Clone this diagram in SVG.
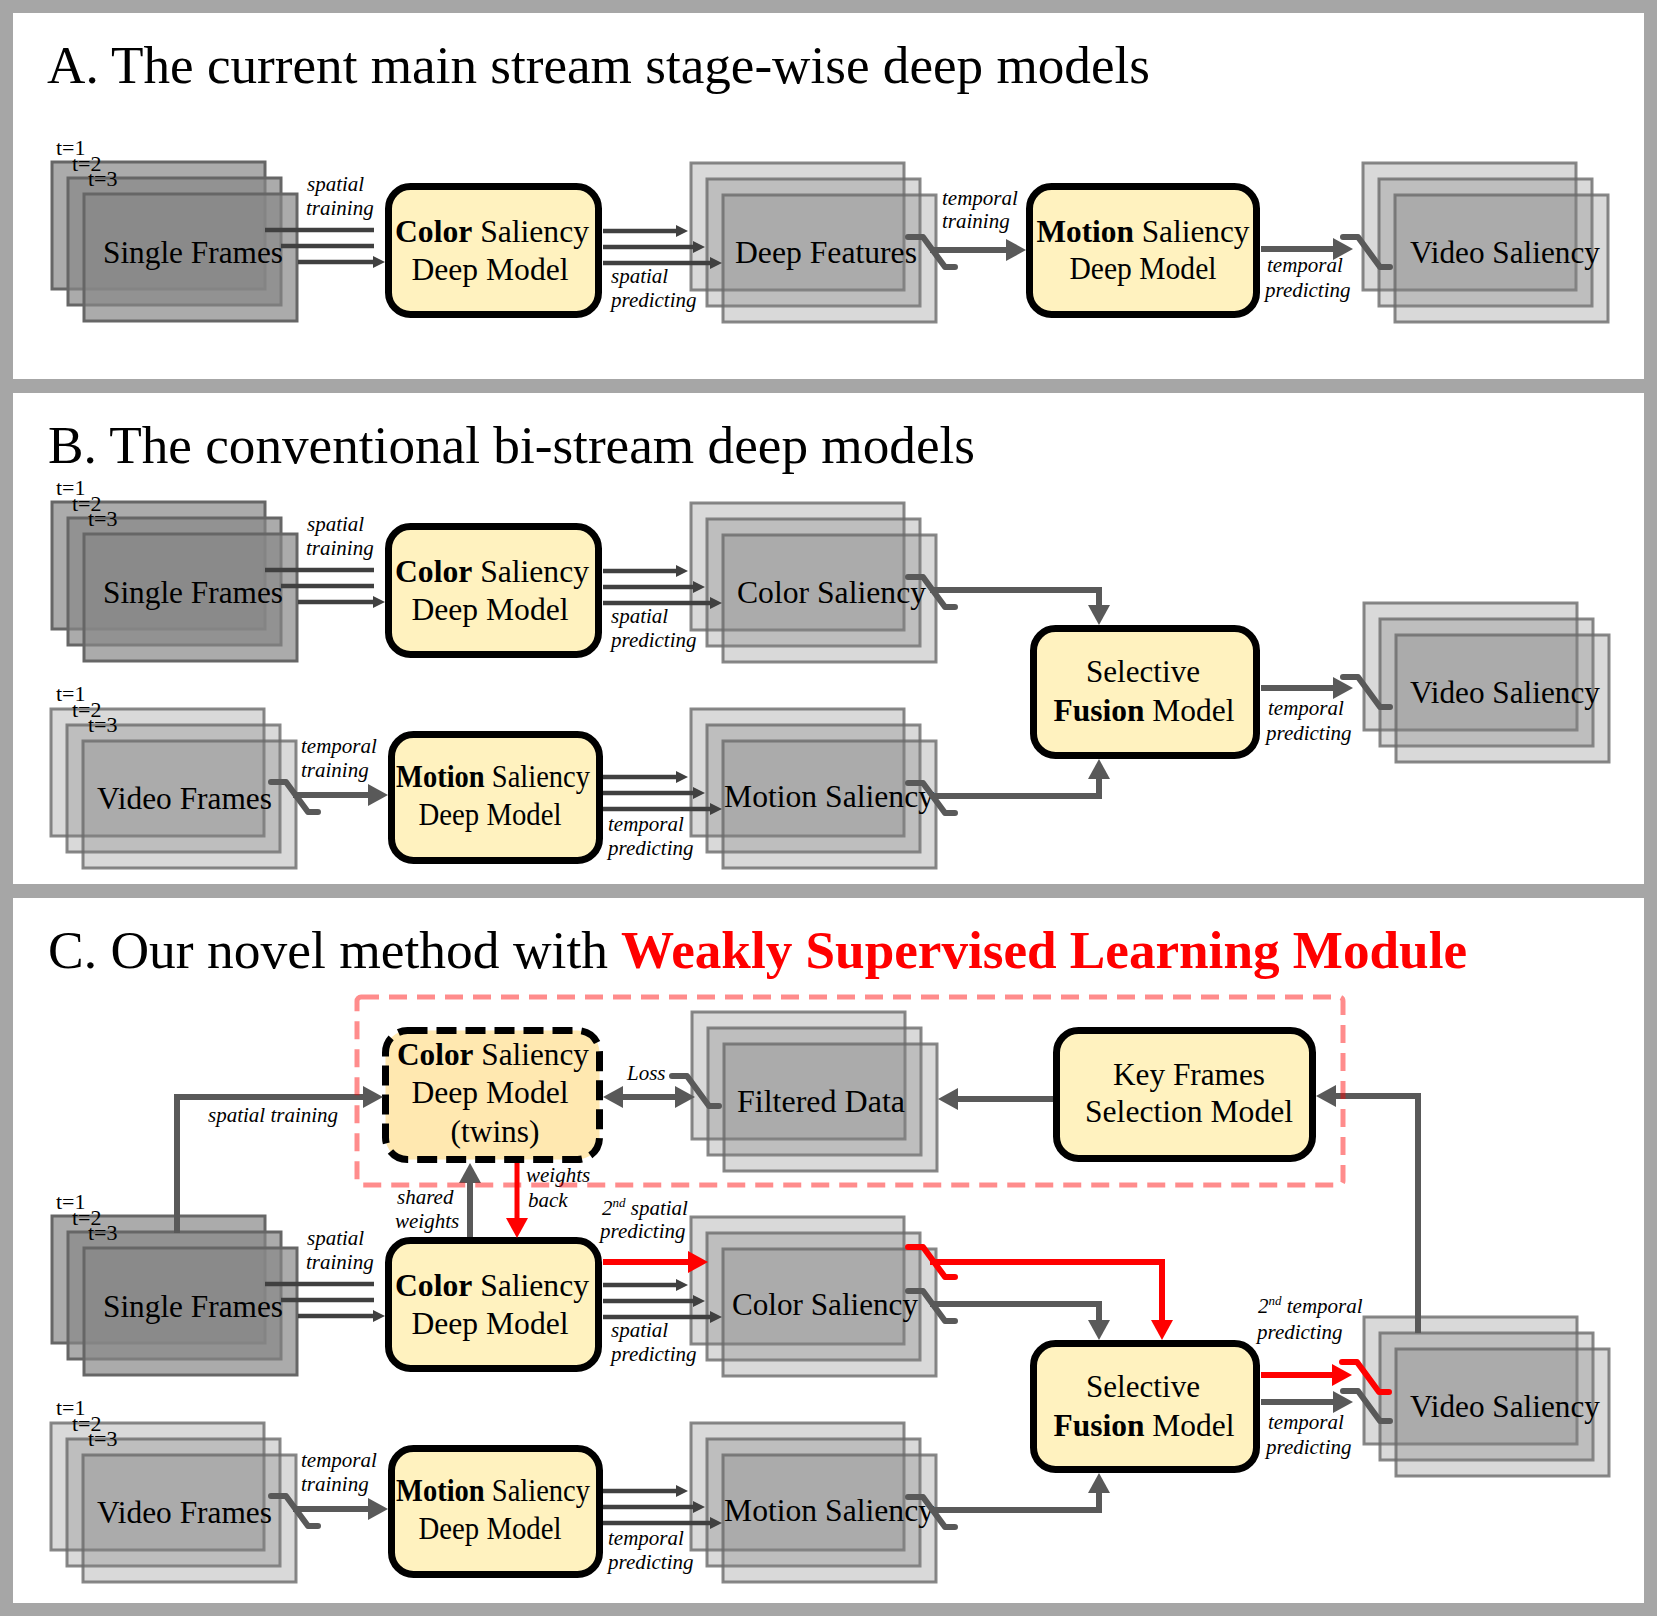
<svg xmlns="http://www.w3.org/2000/svg" xmlns:xlink="http://www.w3.org/1999/xlink" width="1657" height="1616" viewBox="0 0 1657 1616">
<style>
text{font-family:"Liberation Serif","Times New Roman",serif;fill:#000}
.ttl{font-size:52px}
.lbl{font-style:italic;font-size:21px}
.t{font-size:22px}
.bt{font-size:32px}
.box{fill:#fff2bf;stroke:#000;stroke-width:7}
.fd{fill:#888888;fill-opacity:.7;stroke:#666666;stroke-width:3}
.fl{fill:#808080;fill-opacity:.3;stroke:#6a6a6a;stroke-opacity:.8;stroke-width:3}
.thin{stroke:#404040;stroke-width:4.5;fill:none}
.thick{stroke:#595959;stroke-width:6;fill:none}
.red{stroke:#ff0000;stroke-width:6;fill:none}
.sw{stroke:#595959;stroke-width:6;fill:none;stroke-linecap:round;stroke-linejoin:round}
.swr{stroke:#ff0000;stroke-width:6;fill:none;stroke-linecap:round;stroke-linejoin:round}
</style>
<defs>
<g id="stk"><rect x="0" y="0" width="213" height="127"/><rect x="16" y="16" width="213" height="127"/><rect x="32" y="32" width="213" height="127"/></g>
<polyline id="swp" points="0,0 15,0 37,30 47,30"/>
<marker id="ah" markerUnits="userSpaceOnUse" markerWidth="12" markerHeight="12" refX="1" refY="6" orient="auto"><path d="M0,0 L12,6 L0,12 z" fill="#404040"/></marker>
<marker id="ahg" markerUnits="userSpaceOnUse" markerWidth="20" markerHeight="22" refX="1" refY="11" orient="auto-start-reverse"><path d="M0,0 L20,11 L0,22 z" fill="#595959"/></marker>
<marker id="ahr" markerUnits="userSpaceOnUse" markerWidth="20" markerHeight="22" refX="1" refY="11" orient="auto"><path d="M0,0 L20,11 L0,22 z" fill="#ff0000"/></marker>
</defs>
<rect x="0" y="0" width="1657" height="1616" fill="#a6a6a6"/>
<rect x="13" y="13" width="1631" height="366" fill="#fff"/>
<rect x="13" y="393" width="1631" height="491" fill="#fff"/>
<rect x="13" y="898" width="1631" height="705" fill="#fff"/>

<text class="ttl" x="47" y="83" textLength="1103" lengthAdjust="spacingAndGlyphs">A. The current main stream stage-wise deep models</text>
<text class="ttl" x="48" y="463" textLength="927" lengthAdjust="spacingAndGlyphs">B. The conventional bi-stream deep models</text>
<text class="ttl" x="48" y="968"><tspan textLength="560" lengthAdjust="spacingAndGlyphs">C. Our novel method with</tspan><tspan x="621" font-weight="bold" fill="#ff0000" textLength="846" lengthAdjust="spacingAndGlyphs">Weakly Supervised Learning Module</tspan></text>

<!-- Panel A -->
<g id="a-single-frames"><use href="#stk" class="fd" x="52" y="162"/><text class="t" x="56" y="155">t=1</text><text class="t" x="72" y="171">t=2</text><text class="t" x="88" y="186">t=3</text><text class="bt" x="103" y="263" textLength="180" lengthAdjust="spacingAndGlyphs">Single Frames</text></g>
<g id="a-color-model"><rect class="box" x="388.5" y="186.5" width="210" height="128" rx="22"/><text class="bt" x="492" y="242" text-anchor="middle" textLength="194" lengthAdjust="spacingAndGlyphs"><tspan font-weight="bold">Color</tspan> Saliency</text><text class="bt" x="490" y="280" text-anchor="middle" textLength="157" lengthAdjust="spacingAndGlyphs">Deep Model</text></g>
<g id="a-deep-features"><use href="#stk" class="fl" x="691" y="163"/><text class="bt" x="735" y="263" textLength="182" lengthAdjust="spacingAndGlyphs">Deep Features</text></g>
<g id="a-motion-model"><rect class="box" x="1029.5" y="186.5" width="227" height="128" rx="22"/><text class="bt" x="1143" y="242" text-anchor="middle" textLength="213" lengthAdjust="spacingAndGlyphs"><tspan font-weight="bold">Motion</tspan> Saliency</text><text class="bt" x="1143" y="279" text-anchor="middle" textLength="147" lengthAdjust="spacingAndGlyphs">Deep Model</text></g>
<g id="a-video-saliency"><use href="#stk" class="fl" x="1363" y="163"/><text class="bt" x="1410" y="263" textLength="190" lengthAdjust="spacingAndGlyphs">Video Saliency</text></g>

<!-- Panel B -->
<g id="b-single-frames"><use href="#stk" class="fd" x="52" y="502"/><text class="t" x="56" y="495">t=1</text><text class="t" x="72" y="511">t=2</text><text class="t" x="88" y="526">t=3</text><text class="bt" x="103" y="603" textLength="180" lengthAdjust="spacingAndGlyphs">Single Frames</text></g>
<g id="b-color-model"><rect class="box" x="388.5" y="526.5" width="210" height="128" rx="22"/><text class="bt" x="492" y="582" text-anchor="middle" textLength="194" lengthAdjust="spacingAndGlyphs"><tspan font-weight="bold">Color</tspan> Saliency</text><text class="bt" x="490" y="620" text-anchor="middle" textLength="157" lengthAdjust="spacingAndGlyphs">Deep Model</text></g>
<g id="b-color-saliency"><use href="#stk" class="fl" x="691" y="503"/><text class="bt" x="737" y="603" textLength="189" lengthAdjust="spacingAndGlyphs">Color Saliency</text></g>
<g id="b-video-frames"><use href="#stk" class="fl" x="51" y="709"/><text class="t" x="56" y="701">t=1</text><text class="t" x="72" y="717">t=2</text><text class="t" x="88" y="732">t=3</text><text class="bt" x="97" y="809" textLength="175" lengthAdjust="spacingAndGlyphs">Video Frames</text></g>
<g id="b-motion-model"><rect class="box" x="391.5" y="734.5" width="208" height="126" rx="22"/><text class="bt" x="493" y="787" text-anchor="middle" textLength="194" lengthAdjust="spacingAndGlyphs"><tspan font-weight="bold">Motion</tspan> Saliency</text><text class="bt" x="490" y="825" text-anchor="middle" textLength="143" lengthAdjust="spacingAndGlyphs">Deep Model</text></g>
<g id="b-motion-saliency"><use href="#stk" class="fl" x="691" y="709"/><text class="bt" x="724" y="807" textLength="210" lengthAdjust="spacingAndGlyphs">Motion Saliency</text></g>
<g id="b-fusion-model"><rect class="box" x="1033.5" y="628.5" width="223" height="127" rx="22"/><text class="bt" x="1143" y="682" text-anchor="middle" textLength="114" lengthAdjust="spacingAndGlyphs">Selective</text><text class="bt" x="1144" y="721" text-anchor="middle" textLength="181" lengthAdjust="spacingAndGlyphs"><tspan font-weight="bold">Fusion</tspan> Model</text></g>
<g id="b-video-saliency"><use href="#stk" class="fl" x="1364" y="603"/><text class="bt" x="1410" y="703" textLength="190" lengthAdjust="spacingAndGlyphs">Video Saliency</text></g>

<!-- Panel C -->
<g id="c-twins-model"><rect x="385.5" y="1030.5" width="214" height="129" rx="22" fill="#ffe8b0" stroke="#000" stroke-width="7" stroke-dasharray="20 9"/><text class="bt" x="493" y="1065" text-anchor="middle" textLength="192" lengthAdjust="spacingAndGlyphs"><tspan font-weight="bold">Color</tspan> Saliency</text><text class="bt" x="490" y="1103" text-anchor="middle" textLength="157" lengthAdjust="spacingAndGlyphs">Deep Model</text><text class="bt" x="495" y="1142" text-anchor="middle" textLength="89" lengthAdjust="spacingAndGlyphs">(twins)</text></g>
<g id="c-filtered-data"><use href="#stk" class="fl" x="692" y="1012"/><text class="bt" x="737" y="1112" textLength="168" lengthAdjust="spacingAndGlyphs">Filtered Data</text></g>
<g id="c-keyframes-model"><rect class="box" x="1056.5" y="1030.5" width="256" height="128" rx="22"/><text class="bt" x="1189" y="1085" text-anchor="middle" textLength="152" lengthAdjust="spacingAndGlyphs">Key Frames</text><text class="bt" x="1189" y="1122" text-anchor="middle" textLength="208" lengthAdjust="spacingAndGlyphs">Selection Model</text></g>
<g id="c-single-frames"><use href="#stk" class="fd" x="52" y="1216"/><text class="t" x="56" y="1209">t=1</text><text class="t" x="72" y="1225">t=2</text><text class="t" x="88" y="1240">t=3</text><text class="bt" x="103" y="1317" textLength="180" lengthAdjust="spacingAndGlyphs">Single Frames</text></g>
<g id="c-color-model"><rect class="box" x="388.5" y="1240.5" width="210" height="128" rx="22"/><text class="bt" x="492" y="1296" text-anchor="middle" textLength="194" lengthAdjust="spacingAndGlyphs"><tspan font-weight="bold">Color</tspan> Saliency</text><text class="bt" x="490" y="1334" text-anchor="middle" textLength="157" lengthAdjust="spacingAndGlyphs">Deep Model</text></g>
<g id="c-color-saliency"><use href="#stk" class="fl" x="691" y="1217"/><text class="bt" x="732" y="1315" textLength="186" lengthAdjust="spacingAndGlyphs">Color Saliency</text></g>
<g id="c-video-frames"><use href="#stk" class="fl" x="51" y="1423"/><text class="t" x="56" y="1415">t=1</text><text class="t" x="72" y="1431">t=2</text><text class="t" x="88" y="1446">t=3</text><text class="bt" x="97" y="1523" textLength="175" lengthAdjust="spacingAndGlyphs">Video Frames</text></g>
<g id="c-motion-model"><rect class="box" x="391.5" y="1448.5" width="208" height="126" rx="22"/><text class="bt" x="493" y="1501" text-anchor="middle" textLength="194" lengthAdjust="spacingAndGlyphs"><tspan font-weight="bold">Motion</tspan> Saliency</text><text class="bt" x="490" y="1539" text-anchor="middle" textLength="143" lengthAdjust="spacingAndGlyphs">Deep Model</text></g>
<g id="c-motion-saliency"><use href="#stk" class="fl" x="691" y="1423"/><text class="bt" x="724" y="1521" textLength="210" lengthAdjust="spacingAndGlyphs">Motion Saliency</text></g>
<g id="c-fusion-model"><rect class="box" x="1033.5" y="1343.5" width="223" height="126" rx="22"/><text class="bt" x="1143" y="1397" text-anchor="middle" textLength="114" lengthAdjust="spacingAndGlyphs">Selective</text><text class="bt" x="1144" y="1436" text-anchor="middle" textLength="181" lengthAdjust="spacingAndGlyphs"><tspan font-weight="bold">Fusion</tspan> Model</text></g>
<g id="c-video-saliency"><use href="#stk" class="fl" x="1364" y="1317"/><text class="bt" x="1410" y="1417" textLength="190" lengthAdjust="spacingAndGlyphs">Video Saliency</text></g>

<g id="connectors">
<!-- A -->
<path class="thin" marker-end="url(#ah)" d="M265,230H374M281,246H374M298,262H374"/>
<path class="thin" marker-end="url(#ah)" d="M603,231H677"/><path class="thin" marker-end="url(#ah)" d="M603,247H694"/><path class="thin" marker-end="url(#ah)" d="M603,263H711"/>
<use href="#swp" class="sw" x="908" y="237"/>
<path class="thick" marker-end="url(#ahg)" d="M930,250H1007"/>
<path class="thick" marker-end="url(#ahg)" d="M1261,249H1334"/>
<use href="#swp" class="sw" x="1343" y="237"/>
<!-- B -->
<path class="thin" marker-end="url(#ah)" d="M265,570H374M281,586H374M298,602H374"/>
<path class="thin" marker-end="url(#ah)" d="M603,571H677"/><path class="thin" marker-end="url(#ah)" d="M603,587H694"/><path class="thin" marker-end="url(#ah)" d="M603,603H711"/>
<use href="#swp" class="sw" x="908" y="577"/>
<path class="thick" marker-end="url(#ahg)" d="M930,590H1099V606"/>
<use href="#swp" class="sw" x="271" y="782"/>
<path class="thick" marker-end="url(#ahg)" d="M293,795H369"/>
<path class="thin" marker-end="url(#ah)" d="M603,777H677"/><path class="thin" marker-end="url(#ah)" d="M603,793H694"/><path class="thin" marker-end="url(#ah)" d="M603,809H711"/>
<use href="#swp" class="sw" x="908" y="783"/>
<path class="thick" marker-end="url(#ahg)" d="M930,796H1099V778"/>
<path class="thick" marker-end="url(#ahg)" d="M1261,688H1334"/>
<use href="#swp" class="sw" x="1343" y="677"/>
<!-- C -->
<path class="thick" marker-end="url(#ahg)" d="M177,1233V1097H364"/>
<path class="thick" marker-end="url(#ahg)" d="M470,1237V1182"/>
<path class="red" style="stroke-width:5" marker-end="url(#ahr)" d="M517,1163V1219"/>
<path class="thick" marker-start="url(#ahg)" marker-end="url(#ahg)" d="M622,1097H676"/>
<use href="#swp" class="sw" x="672" y="1076"/>
<path class="thick" marker-end="url(#ahg)" d="M1053,1099H957"/>
<path class="thick" marker-end="url(#ahg)" d="M1418,1333V1096H1335"/>
<path class="thin" marker-end="url(#ah)" d="M265,1284H374M281,1300H374M298,1316H374"/>
<path class="red" marker-end="url(#ahr)" d="M603,1262H689"/>
<path class="thin" marker-end="url(#ah)" d="M603,1285H677"/><path class="thin" marker-end="url(#ah)" d="M603,1301H694"/><path class="thin" marker-end="url(#ah)" d="M603,1317H711"/>
<use href="#swp" class="swr" x="908" y="1247"/>
<path class="red" marker-end="url(#ahr)" d="M930,1262H1162V1321"/>
<use href="#swp" class="sw" x="908" y="1291"/>
<path class="thick" marker-end="url(#ahg)" d="M930,1304H1099V1321"/>
<path class="red" marker-end="url(#ahr)" d="M1261,1375H1333"/>
<use href="#swp" class="swr" x="1342" y="1362"/>
<path class="thick" marker-end="url(#ahg)" d="M1261,1402H1334"/>
<use href="#swp" class="sw" x="1343" y="1391"/>
<use href="#swp" class="sw" x="271" y="1496"/>
<path class="thick" marker-end="url(#ahg)" d="M293,1509H369"/>
<path class="thin" marker-end="url(#ah)" d="M603,1491H677"/><path class="thin" marker-end="url(#ah)" d="M603,1507H694"/><path class="thin" marker-end="url(#ah)" d="M603,1523H711"/>
<use href="#swp" class="sw" x="908" y="1497"/>
<path class="thick" marker-end="url(#ahg)" d="M930,1510H1099V1492"/>
</g>

<g id="labels">
<text class="lbl" x="307" y="191">spatial</text><text class="lbl" x="306" y="215">training</text>
<text class="lbl" x="611" y="283">spatial</text><text class="lbl" x="611" y="307">predicting</text>
<text class="lbl" x="942" y="205">temporal</text><text class="lbl" x="942" y="228">training</text>
<text class="lbl" x="1267" y="272">temporal</text><text class="lbl" x="1265" y="297">predicting</text>

<text class="lbl" x="307" y="531">spatial</text><text class="lbl" x="306" y="555">training</text>
<text class="lbl" x="611" y="623">spatial</text><text class="lbl" x="611" y="647">predicting</text>
<text class="lbl" x="1268" y="715">temporal</text><text class="lbl" x="1266" y="740">predicting</text>
<text class="lbl" x="301" y="753">temporal</text><text class="lbl" x="301" y="777">training</text>
<text class="lbl" x="608" y="831">temporal</text><text class="lbl" x="608" y="855">predicting</text>

<text class="lbl" x="208" y="1122">spatial training</text>
<text class="lbl" x="627" y="1080">Loss</text>
<text class="lbl" x="397" y="1204">shared</text><text class="lbl" x="395" y="1228">weights</text>
<text class="lbl" x="526" y="1182">weights</text><text class="lbl" x="528" y="1207">back</text>
<text class="lbl" x="602" y="1215">2<tspan font-size="13" dy="-8">nd</tspan><tspan dy="8"> spatial</tspan></text><text class="lbl" x="600" y="1238">predicting</text>
<text class="lbl" x="307" y="1245">spatial</text><text class="lbl" x="306" y="1269">training</text>
<text class="lbl" x="611" y="1337">spatial</text><text class="lbl" x="611" y="1361">predicting</text>
<text class="lbl" x="1258" y="1313">2<tspan font-size="13" dy="-8">nd</tspan><tspan dy="8"> temporal</tspan></text><text class="lbl" x="1257" y="1339">predicting</text>
<text class="lbl" x="1268" y="1429">temporal</text><text class="lbl" x="1266" y="1454">predicting</text>
<text class="lbl" x="301" y="1467">temporal</text><text class="lbl" x="301" y="1491">training</text>
<text class="lbl" x="608" y="1545">temporal</text><text class="lbl" x="608" y="1569">predicting</text>
</g>

<rect id="wsl-module" x="357" y="997" width="986" height="188" rx="4" fill="none" stroke="#ff0000" stroke-opacity=".45" stroke-width="5" stroke-dasharray="18 10"/>
</svg>
